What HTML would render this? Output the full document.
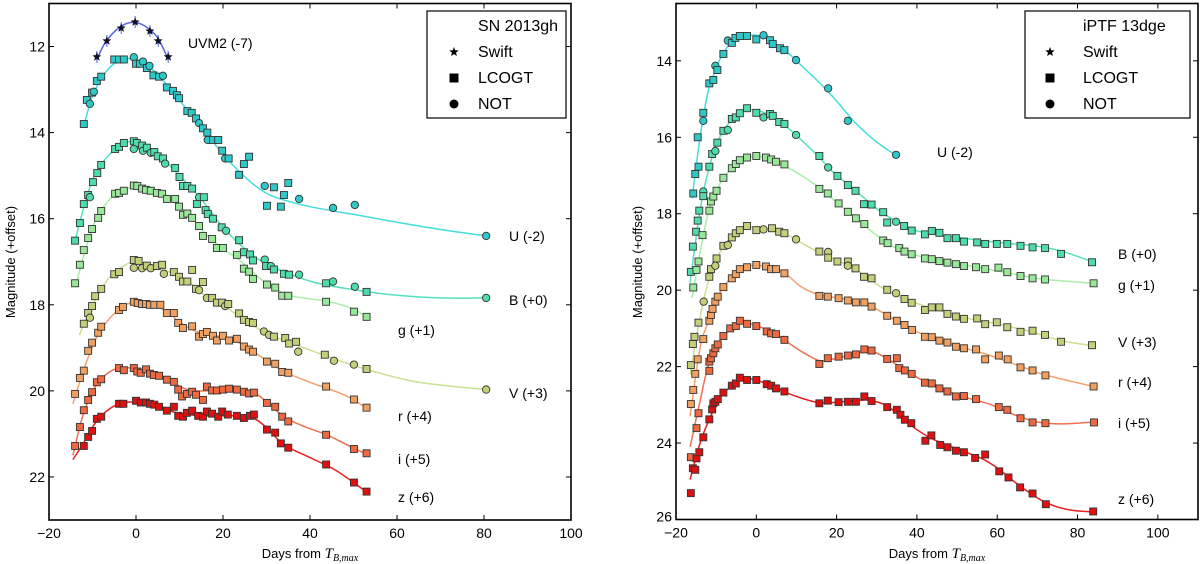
<!DOCTYPE html>
<html><head><meta charset="utf-8"><style>
html,body{margin:0;padding:0;background:#fff;}
svg{display:block;font-family:"Liberation Sans",sans-serif;}
</style></head>
<body>
<svg id="chart" width="1200" height="564" viewBox="0 0 1200 564" xmlns="http://www.w3.org/2000/svg">
<g id="curvesL"></g>
<g id="curvesR"></g>
<g id="marks"></g>
<g id="axes"></g>
</svg>
<script>
// ===== Left panel: SN 2013gh =====
const L_UVM2 = [[-9,12.24,'*'],[-6.7,11.87,'*'],[-3.4,11.57,'*'],[-0.2,11.43,'*'],[3.2,11.64,'*'],[5.1,11.87,'*'],[7.4,12.24,'*']];
const L_UVM2_fit = [[-9,12.3],[-7,11.9],[-4,11.57],[-1,11.44],[2,11.52],[5,11.8],[7.4,12.3]];
const L_U = [[-12,13.8,'s'],[-11.3,13.24,'s'],[-10.6,13.33,'c'],[-10.1,13.07,'s'],[-9.7,13.05,'c'],[-9,12.8,'s'],[-8,12.7,'s'],[-5,12.3,'s'],[-3.9,12.3,'s'],[-2.8,12.3,'s'],[-0.5,12.25,'c'],[0,12.4,'s'],[0.9,12.4,'s'],[1.6,12.35,'c'],[2.5,12.5,'s'],[3.1,12.45,'c'],[4,12.67,'s'],[5.3,12.7,'s'],[6.2,12.68,'c'],[7.1,12.95,'s'],[8.5,13.03,'s'],[9.4,13.13,'s'],[9.9,13.2,'s'],[11.8,13.5,'s'],[12.8,13.54,'s'],[13.8,13.67,'s'],[14.5,13.78,'c'],[15.4,13.9,'s'],[16.4,14.0,'s'],[16.5,14.17,'c'],[17.7,14.17,'s'],[18.9,14.17,'s'],[19.8,14.42,'s'],[20.5,14.6,'c'],[21.3,14.6,'s'],[23.7,14.98,'s'],[24.8,14.73,'s'],[26,14.56,'s'],[29.6,15.24,'c'],[31.7,15.27,'s'],[35,15.17,'s'],[34,15.45,'s'],[30.1,15.7,'s'],[33.3,15.72,'s'],[37.5,15.54,'c'],[45.3,15.75,'c'],[50.3,15.68,'c'],[80.5,16.4,'c']];
const L_U_fit = [[-12,13.85],[-10,13.15],[-7,12.6],[-4,12.33],[-1,12.28],[2,12.4],[5,12.65],[8,13.0],[12,13.5],[16,14.0],[20,14.5],[24,14.93],[28,15.28],[32,15.5],[40,15.72],[50,15.9],[60,16.08],[70,16.25],[80.5,16.4]];
const L_B = [[-14,16.51,'s'],[-12.9,16.1,'s'],[-12,15.66,'s'],[-11,15.45,'s'],[-10.6,15.5,'c'],[-9.9,15.15,'s'],[-8.9,14.94,'s'],[-8,14.75,'s'],[-4.8,14.38,'s'],[-3.9,14.33,'s'],[-2.8,14.24,'s'],[-0.5,14.2,'s'],[0.2,14.24,'s'],[-0.5,14.38,'c'],[1.4,14.3,'s'],[1.6,14.42,'c'],[2.5,14.35,'s'],[3.4,14.47,'c'],[4.2,14.45,'s'],[5,14.55,'s'],[6.2,14.6,'s'],[6.7,14.72,'c'],[9,14.82,'s'],[10,15.03,'s'],[10.8,15.24,'s'],[11.8,15.24,'s'],[12.9,15.3,'s'],[14.5,15.5,'c'],[15.6,15.5,'s'],[14,15.66,'s'],[16,15.8,'s'],[16.5,15.89,'s'],[17.7,16.0,'s'],[19.7,16.2,'s'],[20.7,16.28,'c'],[23.7,16.5,'s'],[24.8,16.78,'s'],[26.2,16.83,'s'],[26.9,16.97,'s'],[29.6,16.95,'c'],[29.9,17.1,'s'],[31,17.1,'c'],[31.7,17.18,'s'],[34,17.28,'s'],[35.2,17.3,'s'],[37.5,17.3,'c'],[43.7,17.5,'s'],[45.3,17.46,'c'],[50.3,17.58,'c'],[53,17.7,'s'],[80.5,17.84,'c']];
const L_B_fit = [[-14,16.5],[-10,15.1],[-5,14.4],[0,14.2],[5,14.5],[10,15.0],[15,15.55],[20,16.2],[25,16.7],[30,17.05],[40,17.45],[50,17.65],[60,17.78],[70,17.84],[80.5,17.84]];
const L_g = [[-14,17.5,'s'],[-12.9,17.07,'s'],[-12,16.73,'s'],[-11,16.45,'s'],[-10.1,16.24,'s'],[-8.7,15.98,'s'],[-8,15.82,'s'],[-4.8,15.42,'s'],[-3.9,15.4,'s'],[-2.8,15.35,'s'],[-0.5,15.23,'s'],[0.3,15.24,'s'],[1.4,15.3,'s'],[2.3,15.33,'s'],[3.4,15.35,'s'],[4.8,15.4,'s'],[6,15.42,'s'],[7.1,15.54,'s'],[9,15.54,'s'],[9.9,15.72,'s'],[10.8,15.91,'s'],[11.8,15.88,'s'],[12.9,15.98,'s'],[14.5,16.17,'s'],[15.4,16.4,'s'],[17.5,16.47,'s'],[18.6,16.68,'s'],[20,16.68,'s'],[23.2,16.84,'s'],[24.8,17.16,'s'],[26,17.23,'s'],[26.9,17.4,'s'],[30.1,17.53,'s'],[32,17.6,'s'],[33.6,17.79,'s'],[35,17.79,'s'],[43.7,17.93,'s'],[50.1,18.16,'s'],[53,18.28,'s']];
const L_g_fit = [[-14,17.6],[-10,16.2],[-6,15.55],[-2,15.3],[0,15.25],[4,15.38],[8,15.55],[12,15.9],[16,16.35],[20,16.7],[24,16.98],[28,17.35],[32,17.62],[36,17.8],[44,17.92],[50,18.1],[53,18.3]];
const L_V = [[-12,18.44,'s'],[-11,18.19,'s'],[-10.6,18.3,'c'],[-10.1,18.03,'s'],[-9.4,17.8,'s'],[-8,17.63,'s'],[-5,17.29,'s'],[-3.9,17.24,'s'],[-0.5,16.96,'s'],[0.6,16.98,'s'],[-0.5,17.14,'c'],[1.4,17.15,'c'],[2.5,17.09,'s'],[3.4,17.15,'c'],[4.8,17.1,'s'],[6,17.07,'s'],[6.4,17.28,'c'],[8.7,17.24,'s'],[9.9,17.35,'s'],[10.8,17.46,'s'],[11.8,17.46,'s'],[12.9,17.19,'s'],[13.8,17.63,'s'],[14.5,17.66,'c'],[15.4,17.47,'s'],[16.3,17.84,'c'],[17.5,17.84,'s'],[18.6,17.95,'s'],[19.8,17.95,'s'],[20.5,18.03,'c'],[21.2,17.98,'s'],[23.7,18.2,'s'],[24.8,18.35,'s'],[26,18.4,'s'],[26.9,18.42,'s'],[29.4,18.62,'c'],[30.6,18.7,'c'],[31.7,18.74,'s'],[34.3,18.77,'s'],[35.2,18.9,'s'],[36.8,18.86,'s'],[37.3,19.09,'c'],[43.4,19.16,'s'],[45.5,19.3,'c'],[50.1,19.39,'c'],[53,19.49,'s'],[80.5,19.97,'c']];
const L_V_fit = [[-13,18.7],[-10,18.0],[-6,17.35],[-2,17.05],[0,17.0],[4,17.1],[8,17.25],[12,17.45],[16,17.8],[20,18.0],[24,18.3],[28,18.55],[32,18.75],[36,18.9],[44,19.2],[53,19.5],[65,19.8],[80.5,19.97]];
const L_r = [[-14,20.07,'s'],[-12.9,19.7,'s'],[-12,19.53,'s'],[-11,19.07,'s'],[-10.1,18.88,'s'],[-8.7,18.65,'s'],[-8,18.51,'s'],[-3.9,18.12,'s'],[-3,18.05,'s'],[-0.5,17.93,'s'],[0.4,17.96,'s'],[1.4,17.98,'s'],[2.3,17.98,'s'],[3.2,18.0,'s'],[4.2,18.0,'s'],[5.6,18.0,'s'],[7.1,18.19,'s'],[8.7,18.19,'s'],[9.7,18.42,'s'],[10.8,18.54,'s'],[12.9,18.5,'s'],[14.5,18.74,'s'],[15.4,18.68,'s'],[16.3,18.63,'s'],[17.7,18.72,'s'],[18.6,18.83,'s'],[20,18.72,'s'],[21.4,18.83,'s'],[23.2,18.79,'s'],[24.8,18.97,'s'],[26,19.04,'s'],[26.9,19.09,'s'],[30.1,19.32,'s'],[32,19.37,'s'],[33.6,19.56,'s'],[35,19.58,'s'],[43.7,19.9,'s'],[50.1,20.2,'s'],[53,20.39,'s']];
const L_r_fit = [[-14.5,20.3],[-12,19.5],[-9,18.75],[-5,18.2],[-1,17.95],[3,18.0],[7,18.15],[10,18.4],[14,18.62],[20,18.75],[25,18.95],[30,19.3],[34,19.55],[40,19.8],[48,20.1],[53,20.4]];
const L_i = [[-14,21.28,'s'],[-12.9,20.84,'s'],[-12,20.45,'s'],[-11,20.21,'s'],[-10.1,20.03,'s'],[-9,19.8,'s'],[-8,19.73,'s'],[-3.9,19.47,'s'],[-2.8,19.52,'s'],[-0.5,19.47,'s'],[0.3,19.55,'s'],[1.1,19.58,'s'],[2.3,19.5,'s'],[3.2,19.6,'s'],[4.1,19.63,'s'],[5.3,19.65,'s'],[7.1,19.74,'s'],[8.7,19.79,'s'],[9.7,19.97,'s'],[10.6,20.13,'s'],[11.7,20.07,'s'],[12.9,20.02,'s'],[13.8,20.09,'s'],[15.4,20.21,'s'],[16.3,19.9,'s'],[17.5,19.99,'s'],[18.6,19.99,'s'],[20,19.97,'s'],[21.4,19.95,'s'],[23.2,19.97,'s'],[24.8,20.02,'s'],[26,20.06,'s'],[27.1,20.04,'s'],[30.1,20.28,'s'],[32,20.37,'s'],[33.6,20.6,'s'],[35,20.71,'s'],[43.7,21.02,'s'],[50.1,21.35,'s'],[53,21.45,'s']];
const L_i_fit = [[-14.5,21.5],[-12,20.5],[-9,19.85],[-5,19.5],[0,19.48],[4,19.6],[8,19.78],[12,19.98],[16,20.0],[22,19.97],[27,20.05],[30,20.25],[34,20.6],[38,20.8],[44,21.03],[50,21.33],[53,21.47]];
const L_z = [[-12,21.28,'s'],[-11,21.07,'s'],[-10.1,20.93,'s'],[-9,20.65,'s'],[-8,20.6,'s'],[-3.9,20.3,'s'],[-2.9,20.3,'s'],[0,20.23,'s'],[1.1,20.27,'s'],[2.3,20.27,'s'],[3.2,20.3,'s'],[4.2,20.32,'s'],[5.3,20.37,'s'],[7.1,20.46,'s'],[8.7,20.37,'s'],[9.7,20.58,'s'],[10.8,20.6,'s'],[11.7,20.51,'s'],[12.9,20.46,'s'],[14.3,20.58,'s'],[15.4,20.6,'s'],[16.3,20.48,'s'],[17.5,20.53,'s'],[18.9,20.6,'s'],[19.8,20.48,'s'],[21.1,20.55,'s'],[23.2,20.58,'s'],[24.8,20.63,'s'],[26.2,20.58,'s'],[27.1,20.55,'s'],[30.1,20.9,'s'],[32,20.97,'s'],[33.3,21.22,'s'],[35,21.32,'s'],[43.7,21.71,'s'],[50.1,22.13,'s'],[53,22.34,'s']];
const L_z_fit = [[-14.5,21.6],[-12,21.2],[-9,20.7],[-5,20.35],[0,20.25],[5,20.33],[9,20.5],[15,20.58],[20,20.58],[26,20.6],[30,20.85],[34,21.25],[40,21.55],[46,21.85],[53,22.35]];

// ===== Right panel: iPTF 13dge =====
const R_U = [[-15.7,17.47,'s'],[-15.2,16.96,'s'],[-14.4,16.77,'s'],[-14.6,16.0,'s'],[-13.2,15.57,'c'],[-13.2,15.36,'s'],[-11.7,14.59,'s'],[-10.7,14.5,'s'],[-10.2,14.13,'c'],[-9.7,14.24,'s'],[-8.2,13.82,'s'],[-7.1,13.47,'c'],[-6.1,13.53,'s'],[-5.2,13.4,'s'],[-4.1,13.35,'s'],[-2.3,13.35,'s'],[0,13.44,'s'],[1.8,13.33,'c'],[3.4,13.46,'s'],[4.1,13.56,'s'],[5.9,13.67,'s'],[7,13.72,'s'],[9.9,13.98,'c'],[17.9,14.72,'c'],[22.8,15.57,'c'],[34.8,16.46,'c']];
const R_U_fit = [[-16,17.6],[-14,16.0],[-12,14.8],[-10,14.2],[-8,13.75],[-5,13.42],[-2,13.33],[1,13.35],[4,13.5],[8,13.8],[12,14.2],[16,14.6],[20,15.05],[24,15.55],[28,15.95],[32,16.28],[34.8,16.46]];
const R_B = [[-16.3,19.52,'s'],[-15.8,18.86,'s'],[-15,18.47,'s'],[-14.6,18.18,'s'],[-14.2,17.92,'s'],[-13.2,17.42,'c'],[-13.2,17.54,'s'],[-11.7,16.77,'s'],[-11,16.44,'s'],[-10.2,16.36,'c'],[-9.7,16.14,'s'],[-8.2,15.83,'s'],[-7.1,15.81,'c'],[-6.1,15.52,'s'],[-5.1,15.48,'s'],[-4.1,15.37,'s'],[-2.3,15.24,'s'],[0,15.36,'s'],[1.8,15.48,'c'],[3.4,15.39,'s'],[4.1,15.44,'s'],[5.7,15.6,'s'],[7,15.65,'s'],[9.9,15.94,'c'],[15.7,16.49,'s'],[17.9,16.79,'c'],[20.2,17.01,'s'],[22.8,17.25,'s'],[24.7,17.4,'s'],[26.8,17.75,'s'],[28.7,17.76,'s'],[31.6,17.96,'s'],[32.6,18.23,'s'],[34.8,18.21,'c'],[36.8,18.32,'s'],[38.7,18.44,'s'],[42,18.54,'s'],[43.7,18.45,'s'],[45.6,18.5,'s'],[47.6,18.64,'s'],[49.7,18.64,'s'],[51.7,18.73,'s'],[55,18.75,'s'],[57,18.79,'s'],[59.9,18.79,'s'],[62.5,18.79,'s'],[65.8,18.84,'s'],[68.8,18.88,'s'],[71.9,18.9,'s'],[75.9,19.05,'s'],[83.6,19.27,'s']];
const R_B_fit = [[-16.5,19.8],[-14,17.9],[-12,16.9],[-10,16.2],[-7,15.65],[-4,15.35],[-1,15.28],[3,15.4],[7,15.68],[11,16.05],[15,16.45],[19,16.9],[23,17.25],[27,17.6],[31,17.95],[35,18.2],[40,18.45],[50,18.62],[60,18.75],[70,18.85],[76,18.98],[83.6,19.25]];
const R_g = [[-15.7,19.93,'s'],[-14.9,19.47,'s'],[-14.4,19.25,'s'],[-13.4,18.56,'s'],[-11.7,17.92,'s'],[-11.3,17.68,'s'],[-10.7,17.55,'s'],[-9.9,17.4,'s'],[-8.2,17.06,'s'],[-6.1,16.81,'s'],[-5.1,16.7,'s'],[-4.1,16.6,'s'],[-2.3,16.53,'s'],[0,16.49,'s'],[2.4,16.53,'s'],[3.7,16.58,'s'],[4.9,16.64,'s'],[7,16.71,'s'],[15.7,17.35,'s'],[17.8,17.47,'s'],[20.5,17.73,'s'],[22.8,17.95,'s'],[24.8,18.12,'s'],[26.9,18.27,'s'],[31.6,18.7,'s'],[32.7,18.77,'s'],[35.6,18.9,'s'],[36.9,18.99,'s'],[38.7,19.06,'s'],[42,19.17,'s'],[43.7,19.19,'s'],[45.6,19.24,'s'],[47.6,19.28,'s'],[49.7,19.32,'s'],[51.7,19.37,'s'],[54.7,19.4,'s'],[57,19.45,'s'],[60.3,19.41,'s'],[62.5,19.53,'s'],[65.8,19.63,'s'],[68.8,19.69,'s'],[71.9,19.72,'s'],[84,19.82,'s']];
const R_g_fit = [[-16,20.2],[-14,19.0],[-12,18.0],[-10,17.4],[-7,16.9],[-4,16.6],[0,16.5],[4,16.6],[8,16.8],[12,17.05],[16,17.35],[20,17.7],[24,18.05],[28,18.4],[32,18.72],[36,18.95],[44,19.2],[56,19.42],[66,19.62],[72,19.72],[84,19.82]];
const R_V = [[-16.3,21.96,'s'],[-15.8,21.41,'s'],[-15.4,21.22,'s'],[-14.4,20.85,'s'],[-13.1,20.3,'c'],[-11.7,19.65,'s'],[-11.3,19.45,'s'],[-10.2,19.36,'c'],[-9.9,19.17,'s'],[-8.2,18.84,'s'],[-7.1,18.82,'c'],[-6.1,18.62,'s'],[-5.1,18.51,'s'],[-4.1,18.43,'s'],[-2.3,18.32,'s'],[0,18.43,'s'],[1.8,18.41,'c'],[3.9,18.38,'s'],[5.7,18.47,'s'],[7,18.51,'s'],[9.9,18.67,'c'],[15.7,18.99,'s'],[17.9,19.0,'c'],[17.9,19.15,'s'],[20.2,19.25,'s'],[22.8,19.25,'s'],[22.8,19.36,'c'],[24.7,19.43,'s'],[26.8,19.65,'s'],[28.7,19.69,'s'],[32.6,19.99,'s'],[34.8,20.08,'c'],[36.9,20.23,'s'],[38.7,20.33,'s'],[42,20.52,'s'],[43.7,20.45,'s'],[45.6,20.45,'s'],[47.6,20.62,'s'],[49.7,20.69,'s'],[51.7,20.75,'s'],[55,20.74,'s'],[57,20.89,'s'],[59.9,20.84,'s'],[62.5,20.97,'s'],[65.8,21.09,'s'],[68.8,21.06,'s'],[71.9,21.17,'s'],[75.9,21.35,'s'],[83.6,21.44,'s']];
const R_V_fit = [[-16.5,22.2],[-14,20.7],[-12,19.8],[-9,19.0],[-5,18.5],[-1,18.35],[3,18.4],[7,18.52],[11,18.75],[15,18.98],[20,19.22],[24,19.4],[28,19.7],[32,19.98],[36,20.2],[44,20.48],[52,20.72],[60,20.88],[68,21.08],[76,21.32],[83.6,21.45]];
const R_r = [[-16.3,22.98,'s'],[-15.7,22.61,'s'],[-15.2,22.19,'s'],[-14.6,21.81,'s'],[-13.2,21.28,'s'],[-11.7,20.8,'s'],[-11.3,20.65,'s'],[-10.9,20.49,'s'],[-10.2,20.3,'s'],[-9.6,20.17,'s'],[-8.2,19.92,'s'],[-6.1,19.69,'s'],[-5.1,19.58,'s'],[-4.1,19.45,'s'],[-2.3,19.4,'s'],[0,19.34,'s'],[2.4,19.38,'s'],[3.7,19.45,'s'],[4.9,19.45,'s'],[7,19.56,'s'],[15.7,20.15,'s'],[17.8,20.17,'s'],[20.5,20.21,'s'],[22.8,20.27,'s'],[24.8,20.32,'s'],[26.9,20.32,'s'],[28.7,20.43,'s'],[32.6,20.67,'s'],[35,20.8,'s'],[36.9,20.91,'s'],[38.8,21.04,'s'],[42,21.22,'s'],[43.7,21.23,'s'],[45.6,21.32,'s'],[47.6,21.37,'s'],[49.7,21.48,'s'],[51.7,21.52,'s'],[54.7,21.55,'s'],[57,21.81,'s'],[60.4,21.71,'s'],[62.6,21.81,'s'],[65.8,22.02,'s'],[68.8,22.1,'s'],[72,22.23,'s'],[84,22.52,'s']];
const R_r_fit = [[-16.5,23.3],[-14,21.5],[-12,20.85],[-9,20.05],[-5,19.55],[-1,19.35],[3,19.4],[7,19.55],[11,19.9],[15,20.1],[20,20.2],[26,20.32],[30,20.5],[34,20.75],[38,21.0],[44,21.25],[52,21.52],[58,21.7],[66,22.0],[72,22.22],[84,22.52]];
const R_i = [[-16.3,24.37,'s'],[-14.9,23.61,'s'],[-14.4,23.22,'s'],[-11.7,22.11,'s'],[-11.7,21.87,'s'],[-11.3,21.78,'s'],[-10.7,21.65,'s'],[-10.2,21.52,'s'],[-9.6,21.42,'s'],[-8.2,21.2,'s'],[-6.5,21.0,'s'],[-5.1,20.94,'s'],[-4.1,20.8,'s'],[-2.3,20.88,'s'],[0,20.94,'s'],[2.6,21.08,'s'],[3.7,21.13,'s'],[4.9,21.15,'s'],[7,21.3,'s'],[15.7,21.93,'s'],[17.8,21.78,'s'],[20.5,21.74,'s'],[22.8,21.71,'s'],[24.8,21.68,'s'],[26.9,21.55,'s'],[28.7,21.58,'s'],[32.6,21.8,'s'],[35,21.78,'s'],[35.6,22.04,'s'],[37,22.1,'s'],[38.7,22.19,'s'],[42,22.42,'s'],[43.7,22.44,'s'],[45.6,22.57,'s'],[47.6,22.65,'s'],[49.7,22.78,'s'],[51.7,22.77,'s'],[54.7,22.85,'s'],[60.4,23.06,'s'],[62.5,23.13,'s'],[65.8,23.35,'s'],[68.8,23.46,'s'],[72,23.48,'s'],[84.1,23.46,'s']];
const R_i_fit = [[-16.5,24.1],[-14,22.9],[-12,22.0],[-9,21.3],[-6,21.0],[-3,20.85],[0,20.93],[4,21.1],[8,21.38],[12,21.65],[16,21.85],[20,21.78],[25,21.65],[28,21.58],[31,21.7],[35,21.95],[40,22.28],[46,22.57],[52,22.8],[58,22.98],[64,23.25],[70,23.45],[76,23.5],[84,23.45]];
const R_z = [[-16.3,25.31,'s'],[-15.8,24.66,'s'],[-15.2,24.7,'s'],[-14.9,24.4,'s'],[-14.2,24.24,'s'],[-13.2,23.85,'s'],[-11.7,23.38,'s'],[-11,23.12,'s'],[-10.7,22.96,'s'],[-10.2,22.92,'s'],[-9.6,22.85,'s'],[-8.2,22.68,'s'],[-6.1,22.5,'s'],[-5.1,22.44,'s'],[-4.1,22.29,'s'],[-2.3,22.35,'s'],[0,22.35,'s'],[2.6,22.46,'s'],[3.7,22.5,'s'],[4.9,22.57,'s'],[7,22.65,'s'],[15.7,22.96,'s'],[17.8,22.89,'s'],[20.5,22.93,'s'],[22.8,22.92,'s'],[24.8,22.92,'s'],[26.9,22.78,'s'],[28.7,22.9,'s'],[32.6,23.06,'s'],[35,23.13,'s'],[35.9,23.26,'s'],[37,23.39,'s'],[38.6,23.48,'s'],[42.1,23.94,'s'],[43.6,23.8,'s'],[45.8,24.05,'s'],[47.6,24.11,'s'],[49.7,24.2,'s'],[51.7,24.24,'s'],[54.5,24.39,'s'],[57,24.3,'s'],[60.5,24.74,'s'],[62.8,24.9,'s'],[65.7,25.16,'s'],[68.8,25.32,'s'],[72.1,25.6,'s'],[83.9,25.79,'s']];
const R_z_fit = [[-16.5,24.95],[-14,24.0],[-12,23.45],[-9,22.8],[-6,22.5],[-3,22.32],[0,22.35],[4,22.52],[8,22.7],[12,22.85],[16,22.95],[20,22.93],[24,22.9],[28,22.88],[32,23.0],[36,23.3],[40,23.65],[44,23.9],[50,24.15],[56,24.4],[60,24.65],[66,25.15],[72,25.55],[78,25.75],[84,25.8]];

const xTicksL = [-20,0,20,40,60,80,100];
const yTicksL = [12,14,16,18,20,22];
const xTicksR = [-20,0,20,40,60,80,100];
const yTicksR = [14,16,18,20,22,24,26];

const NS = 'http://www.w3.org/2000/svg';
const svg = document.getElementById('chart');
const xL = d => 49 + (d + 20) * (522 / 120);
const yL = m => 3.5 + (m - 11) * (516.5 / 12);
const xR = d => 676 + (d + 20) * (522 / 130);
const yR = m => 3.5 + (m - 12.5) * (516 / 13.5);

function mk(tag, attrs, parent) {
  const el = document.createElementNS(NS, tag);
  for (const k in attrs) el.setAttribute(k, attrs[k]);
  parent.appendChild(el);
  return el;
}
function smoothPath(pts) {
  let d = 'M' + pts[0][0].toFixed(1) + ',' + pts[0][1].toFixed(1);
  for (let i = 0; i < pts.length - 1; i++) {
    const p0 = pts[Math.max(0, i - 1)], p1 = pts[i], p2 = pts[i + 1], p3 = pts[Math.min(pts.length - 1, i + 2)];
    const c1x = p1[0] + (p2[0] - p0[0]) / 6, c1y = p1[1] + (p2[1] - p0[1]) / 6;
    const c2x = p2[0] - (p3[0] - p1[0]) / 6, c2y = p2[1] - (p3[1] - p1[1]) / 6;
    d += ' C' + c1x.toFixed(1) + ',' + c1y.toFixed(1) + ' ' + c2x.toFixed(1) + ',' + c2y.toFixed(1) + ' ' + p2[0].toFixed(1) + ',' + p2[1].toFixed(1);
  }
  return d;
}
function starPts(cx, cy, r) {
  const p = [];
  for (let i = 0; i < 10; i++) {
    const a = -Math.PI / 2 + i * Math.PI / 5, rr = i % 2 ? r * 0.42 : r;
    p.push((cx + rr * Math.cos(a)).toFixed(1) + ',' + (cy + rr * Math.sin(a)).toFixed(1));
  }
  return p.join(' ');
}
const gMarks = document.getElementById('marks');
function drawBand(name, data, fit, fx, fy, color, line, parentCurves) {
  const path = mk('path', {d: smoothPath(fit.map(p => [fx(p[0]), fy(p[1])])), fill: 'none', stroke: line, 'stroke-width': 1.5}, parentCurves);
  
  
  const g = mk('g', {}, gMarks);
  
  
  data.forEach(p => {
    const cx = fx(p[0]), cy = fy(p[1]);
    let el;
    if (p[2] === 's') el = mk('rect', {x: cx - 3.5, y: cy - 3.5, width: 7, height: 7, fill: color, stroke: '#333', 'stroke-width': 0.9}, g);
    else if (p[2] === 'c') el = mk('circle', {cx: cx, cy: cy, r: 3.7, fill: color, stroke: '#333', 'stroke-width': 0.9}, g);
    else {
      mk('line', {x1: cx, y1: cy - 6, x2: cx, y2: cy + 6, stroke: line, 'stroke-width': 1}, g);
      el = mk('polygon', {points: starPts(cx, cy, 4.2), fill: '#112', stroke: '#112', 'stroke-width': 0.5}, g);
    }
    
    
  });
}
const cL = document.getElementById('curvesL'), cR = document.getElementById('curvesR');
drawBand('uvm2', L_UVM2, L_UVM2_fit, xL, yL, '#5060e0', '#5566e0', cL);
drawBand('left-u', L_U, L_U_fit, xL, yL, '#2ec8c8', '#44dede', cL);
drawBand('left-b', L_B, L_B_fit, xL, yL, '#4ddcaa', '#55e0c0', cL);
drawBand('left-g', L_g, L_g_fit, xL, yL, '#99e89a', '#a8eea8', cL);
drawBand('left-v', L_V, L_V_fit, xL, yL, '#c5cf7a', '#c8e090', cL);
drawBand('left-r', L_r, L_r_fit, xL, yL, '#f0a060', '#f5a070', cL);
drawBand('left-i', L_i, L_i_fit, xL, yL, '#ee6840', '#f07050', cL);
drawBand('left-z', L_z, L_z_fit, xL, yL, '#e01010', '#e62020', cL);
drawBand('right-u', R_U, R_U_fit, xR, yR, '#2ec8c8', '#44dede', cR);
drawBand('right-b', R_B, R_B_fit, xR, yR, '#4ddcaa', '#55e0c0', cR);
drawBand('right-g', R_g, R_g_fit, xR, yR, '#99e89a', '#a8eea8', cR);
drawBand('right-v', R_V, R_V_fit, xR, yR, '#c5cf7a', '#c8e090', cR);
drawBand('right-r', R_r, R_r_fit, xR, yR, '#f0a060', '#f5a070', cR);
drawBand('right-i', R_i, R_i_fit, xR, yR, '#ee6840', '#f07050', cR);
drawBand('right-z', R_z, R_z_fit, xR, yR, '#e01010', '#e62020', cR);

const gAx = document.getElementById('axes');
function txt(s, x, y, attrs, name) {
  const t = mk('text', Object.assign({x: x, y: y, 'font-size': 14, fill: '#000'}, attrs), gAx);
  t.textContent = s;
  
  
  return t;
}
function axesBox(x0, y0, x1, y1, xt, yt, fx, fy, name) {
  const r = mk('rect', {x: x0, y: y0, width: x1 - x0, height: y1 - y0, fill: 'none', stroke: '#000', 'stroke-width': 1.6}, gAx);
  
  
  xt.forEach(v => {
    const x = fx(v);
    mk('line', {x1: x, y1: y1, x2: x, y2: y1 - 5, stroke: '#000'}, gAx);
    mk('line', {x1: x, y1: y0, x2: x, y2: y0 + 5, stroke: '#000'}, gAx);
    txt(v < 0 ? '\u2212' + Math.abs(v) : String(v), x, y1 + 18, {'text-anchor': 'middle'}, name + '-x-tick-label');
  });
  yt.forEach(v => {
    const y = fy(v);
    mk('line', {x1: x0, y1: y, x2: x0 + 5, y2: y, stroke: '#000'}, gAx);
    mk('line', {x1: x1, y1: y, x2: x1 - 5, y2: y, stroke: '#000'}, gAx);
    txt(String(v), x0 - 4, Math.min(y + 5, y1 + 2), {'text-anchor': 'end'}, name + '-y-tick-label');
  });
}
axesBox(49, 3.5, 571, 520, xTicksL, yTicksL, xL, yL, 'left');
axesBox(676, 3.5, 1198, 519.5, xTicksR, yTicksR, xR, yR, 'right');

function xTitle(cx, name) {
  const t = mk('text', {x: cx, y: 558, 'font-size': 13, 'text-anchor': 'middle', fill: '#000'}, gAx);
  
  
  t.appendChild(document.createTextNode('Days from '));
  const ts = mk('tspan', {'font-style': 'italic', 'font-family': 'Liberation Serif, serif', 'font-size': 15}, t);
  ts.textContent = 'T';
  const sub = mk('tspan', {'font-style': 'italic', 'font-family': 'Liberation Serif, serif', 'font-size': 10, dy: 3}, t);
  sub.textContent = 'B,max';
}
xTitle(310, 'left-x-axis-title');
xTitle(937, 'right-x-axis-title');
txt('Magnitude (+offset)', 0, 0, {'font-size': 13, 'text-anchor': 'middle', transform: 'translate(15,262) rotate(-90)'}, 'left-y-axis-title');
txt('Magnitude (+offset)', 0, 0, {'font-size': 13, 'text-anchor': 'middle', transform: 'translate(642,262) rotate(-90)'}, 'right-y-axis-title');

[['UVM2 (-7)', 188, 48], ['U (-2)', 509, 241], ['B (+0)', 509, 305], ['g (+1)', 398, 335], ['V (+3)', 509, 398], ['r (+4)', 398, 421], ['i (+5)', 398, 464], ['z (+6)', 398, 502]]
  .forEach(l => txt(l[0], l[1], l[2], {'font-size': 14}, 'left-band-label'));
[['U (-2)', 937, 157], ['B (+0)', 1118, 259], ['g (+1)', 1118, 290], ['V (+3)', 1118, 347], ['r (+4)', 1118, 387], ['i (+5)', 1118, 428], ['z (+6)', 1118, 504]]
  .forEach(l => txt(l[0], l[1], l[2], {'font-size': 14}, 'right-band-label'));

function legend(x0, x1, title, mx, tx, name) {
  const g = mk('g', {}, gAx);
  
  
  mk('rect', {x: x0, y: 11, width: x1 - x0, height: 107, fill: '#fff', stroke: '#000', 'stroke-width': 1.2}, g);
  const t = mk('text', {x: tx, y: 31, 'font-size': 16}, g); t.textContent = title;
  const rows = [['Swift', 57], ['LCOGT', 83], ['NOT', 109]];
  rows.forEach(r => { const e = mk('text', {x: tx, y: r[1], 'font-size': 16}, g); e.textContent = r[0]; });
  mk('polygon', {points: starPts(mx, 52, 5), fill: '#000'}, g);
  mk('rect', {x: mx - 4.5, y: 73.5, width: 9, height: 9, fill: '#000'}, g);
  mk('circle', {cx: mx, cy: 104, r: 4.5, fill: '#000'}, g);
}
legend(427, 566, 'SN 2013gh', 454, 478, 'left-legend');
legend(1025, 1190, 'iPTF 13dge', 1050, 1083, 'right-legend');
</script>
</body></html>
